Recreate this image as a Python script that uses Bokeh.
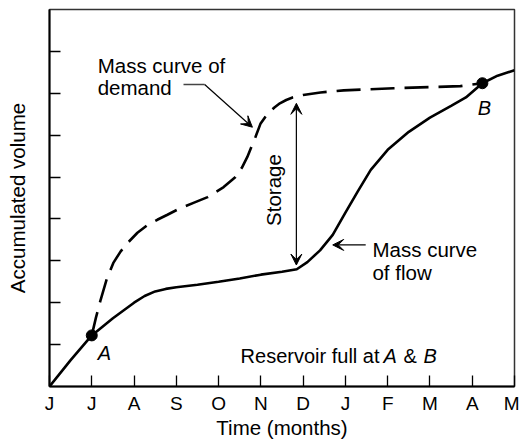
import math
from bokeh.plotting import figure
from bokeh.models import Range1d, FixedTicker, Arrow, VeeHead
from bokeh.core.properties import value
from bokeh.embed import file_html
from bokeh.resources import INLINE

# ---- data (months since June; accumulated volume in tick units) ----
months = ["J", "J", "A", "S", "O", "N", "D", "J", "F", "M", "A", "M"]

flow_x = [0, 0.5, 1.0, 1.5, 2.0, 2.25, 2.5, 2.75, 3.0, 3.5, 4.0, 4.5, 5.0, 5.5, 5.85, 6.1,
          6.4, 6.7, 7.0, 7.3, 7.6, 8.0, 8.5, 9.0, 9.5, 9.85, 10.24, 10.6, 11.0]
flow_y = [0, 0.63, 1.22, 1.63, 2.0, 2.16, 2.27, 2.33, 2.37, 2.43, 2.5, 2.58, 2.67, 2.74,
          2.8, 2.97, 3.25, 3.62, 4.15, 4.67, 5.17, 5.65, 6.08, 6.42, 6.7, 6.9, 7.24, 7.42,
          7.55]

demand_x = [1.0, 1.1, 1.21, 1.35, 1.51, 1.68, 1.85, 2.08, 2.3, 2.55, 2.79, 3.1, 3.42,
            3.74, 4.12, 4.4, 4.55, 4.68, 4.87, 4.99, 5.1, 5.2, 5.32, 5.45, 5.6, 5.75,
            6.0, 6.41, 6.96, 8.14, 9.72, 10.24]
demand_y = [1.22, 1.65, 2.07, 2.55, 2.95, 3.22, 3.43, 3.67, 3.84, 3.98, 4.1, 4.26, 4.39,
            4.52, 4.76, 5.0, 5.22, 5.48, 5.95, 6.27, 6.43, 6.55, 6.66, 6.76, 6.84, 6.9,
            6.96, 7.02, 7.07, 7.12, 7.17, 7.24]

points_x = [1.0, 10.24]
points_y = [1.22, 7.24]
point_names = ["A", "B"]

storage_x = 5.84
storage_bottom = 2.9
storage_top = 6.76

FONT = "Liberation Sans"

p = figure(width=519, height=441, output_backend="svg", toolbar_location=None,
           x_range=Range1d(0, 11), y_range=Range1d(0, 9),
           min_border_left=49, min_border_right=5, min_border_top=9, min_border_bottom=54)
p.background_fill_color = "white"
p.border_fill_color = "white"
p.outline_line_color = "#333333"
p.outline_line_width = 1.5
p.grid.visible = False

# axes
p.xaxis.ticker = FixedTicker(ticks=list(range(len(months))))
p.xaxis.major_label_overrides = {i: m for i, m in enumerate(months)}
p.xaxis.axis_label = "Time (months)"
p.yaxis.ticker = FixedTicker(ticks=list(range(1, 9)))
p.yaxis.major_label_overrides = {i: "" for i in range(1, 9)}
p.yaxis.axis_label = "Accumulated volume"
for ax in (p.xaxis, p.yaxis):
    ax.axis_line_color = "black"
    ax.axis_line_width = 2
    ax.major_tick_in = 11
    ax.major_tick_out = 0
    ax.major_tick_line_color = "black"
    ax.major_tick_line_width = 1.3
    ax.minor_tick_line_color = None
    ax.major_label_text_font = FONT
    ax.major_label_text_font_size = "19px"
    ax.major_label_text_color = "black"
    ax.axis_label_text_font = FONT
    ax.axis_label_text_font_style = "normal"
    ax.axis_label_text_font_size = "20.5px"
    ax.axis_label_text_color = "black"
p.xaxis.major_label_standoff = 6
p.xaxis.axis_label_standoff = -1
p.yaxis.major_label_standoff = 0
p.yaxis.axis_label_standoff = 21

# curves
p.line(flow_x, flow_y, line_color="black", line_width=2.6)
p.line(demand_x, demand_y, line_color="black", line_width=2.6, line_dash="24 10")
p.scatter(points_x, points_y, size=11, fill_color="black", line_color="black")

# point labels
p.text([1.14, 10.13], [0.81, 6.64], text=point_names, text_font=value(FONT),
       text_font_size="20px", text_font_style="italic", text_baseline="alphabetic",
       text_color="black")

# annotation texts
p.text([1.14, 1.14], [7.67, 7.14], text=["Mass curve of", "demand"], text_font=value(FONT),
       text_font_size="20.5px", text_baseline="alphabetic", text_color="black")
p.text([7.64, 7.64], [3.26, 2.71], text=["Mass curve", "of flow"], text_font=value(FONT),
       text_font_size="20.5px", text_baseline="alphabetic", text_color="black")
p.text([5.30], [4.69], text=["Storage"], angle=math.pi / 2, text_font=value(FONT),
       text_font_size="20.5px", text_align="center", text_baseline="middle", text_color="black")

rx, ry = 4.52, 0.74
p.text([rx, rx], [ry, ry], text=["Reservoir full at", "&"], x_offset=[0, 163],
       text_font=value(FONT), text_font_size="20px", text_baseline="alphabetic",
       text_color="black")
p.text([rx, rx], [ry, ry], text=["A", "B"], x_offset=[143, 183],
       text_font=value(FONT), text_font_size="20px", text_font_style="italic",
       text_baseline="alphabetic", text_color="black")

# arrows
p.line([3.17, 3.67], [7.21, 7.21], line_color="#444444", line_width=1.3)
p.add_layout(Arrow(end=VeeHead(size=11, fill_color="black", line_color="black"),
                   x_start=3.67, y_start=7.21, x_end=4.80, y_end=6.19,
                   line_color="black", line_width=1.2))
p.add_layout(Arrow(end=VeeHead(size=11, fill_color="black", line_color="black"),
                   x_start=7.48, y_start=3.38, x_end=6.70, y_end=3.38,
                   line_color="black", line_width=1.2))
p.add_layout(Arrow(start=VeeHead(size=11, fill_color="black", line_color="black"),
                   end=VeeHead(size=11, fill_color="black", line_color="black"),
                   x_start=storage_x, y_start=storage_bottom, x_end=storage_x, y_end=storage_top,
                   line_color="black", line_width=1.2))

open("out.html", "w").write(file_html(p, INLINE))
